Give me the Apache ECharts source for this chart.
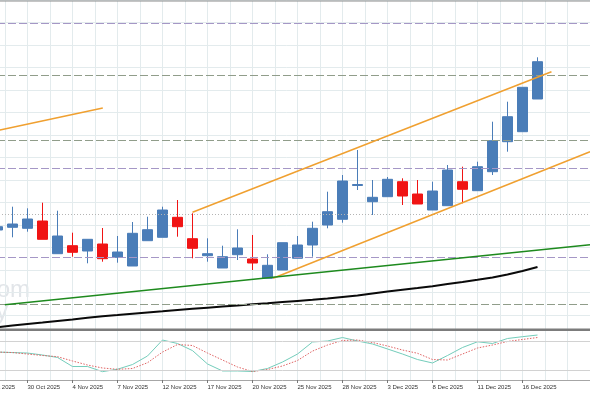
<!DOCTYPE html>
<html><head><meta charset="utf-8">
<script src="https://cdn.jsdelivr.net/npm/echarts@6/dist/echarts.min.js"></script>
<style>html,body{margin:0;padding:0;background:#fff;overflow:hidden;width:590px;height:393px;position:relative}
#c{position:absolute;left:-25px;top:0;width:620px;height:393px}</style>
</head><body><div id="c"></div>
<script>
// ---- data (price units are arbitrary: no price scale is visible in the source) ----
const dates = ['27 Oct 2025','28 Oct 2025','29 Oct 2025','30 Oct 2025','31 Oct 2025',
 '3 Nov 2025','4 Nov 2025','5 Nov 2025','6 Nov 2025','7 Nov 2025',
 '10 Nov 2025','11 Nov 2025','12 Nov 2025','13 Nov 2025','14 Nov 2025',
 '17 Nov 2025','18 Nov 2025','19 Nov 2025','20 Nov 2025','21 Nov 2025',
 '24 Nov 2025','25 Nov 2025','26 Nov 2025','27 Nov 2025','28 Nov 2025',
 '1 Dec 2025','2 Dec 2025','3 Dec 2025','4 Dec 2025','5 Dec 2025',
 '8 Dec 2025','9 Dec 2025','10 Dec 2025','11 Dec 2025','12 Dec 2025',
 '15 Dec 2025','16 Dec 2025','17 Dec 2025','18 Dec 2025','19 Dec 2025','22 Dec 2025'];
const lastLabelIndex = 36;

// [open, close, low, high]
const candles = ['-',
 [97,100.3,96.5,101],[99.7,103,89.7,120.3],[98.7,108,95.3,118.7],[106,87.7,87.7,124.3],
 [73.3,91,73.3,116.3],[81.3,74.7,70.3,94.3],[76,87.7,63.7,87.7],[83,68.3,65.3,99],
 [69.7,75,64.3,91],[61,93.7,61,105],[86.3,97.3,86.3,110.3],[89.7,117,89.7,120.3],
 [109.7,100.3,90.3,127],[88.3,78.7,68.7,113.7],[71.3,73.3,65.3,88.7],[59,70.3,59,81.3],
 [72.3,79,67,97.7],[68,64,57,92],[48.7,61.7,48.7,72.7],[57,84.3,57,84.3],
 [68.7,82,68.7,91],[82,98.7,70.3,105.3],[102,115.3,98.7,135.3],[107.7,146,104.3,152],
 [141.5,142.5,137,177],[125.3,129.7,112,147],[130.3,147.7,130.3,150],[145.3,131,122,148.7],
 [133,123,123,147],[117,136,117,145.3],[121.3,157,121.3,162],[145.3,137.7,123.7,160.3],
 [136.3,160.3,136.3,165.3],[155.3,186.3,152,205.3],[185.3,210.3,175.3,225.3],
 [195.3,239.7,195.3,239.7],[228,265.3,228,269.7]];

const movingAvg = ['-',
 -0.2,1.4,3,4.5,6.1,7.6,9.2,10.8,12,13.3,14.5,15.7,17,18.2,19.3,20.4,21.5,22.7,23.8,25,
 26.1,27.2,28.5,30,31.5,33.5,35.5,37.3,39,40.8,42.9,45,47.2,49.5,52.5,56,60];

const stochMain = ['-',
 57,56,55,51,46,27.5,27.5,17,22,31.6,49,81.6,74.5,60,32.7,18.4,18.4,17.3,23.5,36.7,
 53,77.6,79.6,86.7,79.6,73.5,63.3,53,41.8,34.7,50,66.3,78,74.5,84.7,88.4,91.8];
const stochSignal = ['-',
 57,56,53,50,47.6,38.8,30.6,24.5,21.8,23.5,35.3,57,72.4,70.4,55,40.8,26.5,17.3,21.4,28.6,
 39.8,59,71.4,80.6,81.6,76.5,69.4,61.2,54.5,41.8,40.8,53,65.3,71.4,78.6,82.7,86.7];
const stochLevels = [20, 80];

const levelsPurple = [304, 159, 70];
const levelsGreen = [252, 187, 23];
const levelsDotted = [113];

// trend lines: [category index, price]
const trendOld = [[0,193.3],[8.02,219]];
const channelUpper = [[14.0,114.7],[37.93,255.3]];
const channelLower = [[19.37,48.7],[40.5,175.3]];
const trendGreen = [[1.49,22.2],[40.5,82.2]];

// ---- chart (canvas is shifted 25px left so the first candle is cut by the edge) ----
const chart = echarts.init(document.getElementById('c'), null, {renderer:'canvas'});
const gridColor = '#e3ebed';
const showIdx = (i) => i % 3 === 0 && i <= lastLabelIndex;
const levelLines = [];
levelsPurple.forEach(v => levelLines.push({yAxis:v, lineStyle:{color:'#a597c6', type:[8,3], width:1}}));
levelsGreen.forEach(v => levelLines.push({yAxis:v, lineStyle:{color:'#909d8a', type:[8,3], width:1}}));
levelsDotted.forEach(v => levelLines.push({yAxis:v, lineStyle:{color:'#b4b4b4', type:[1,2], width:1}}));

const trendSeries = (data, color, width) => ({
  type:'line', xAxisIndex:1, yAxisIndex:0, data, symbol:'none', silent:true, z:5,
  lineStyle:{color, width}
});

chart.setOption({
  animation:false,
  backgroundColor:'#ffffff',
  grid:[
    {left:0, width:615, top:1, height:328},
    {left:0, width:615, top:331, height:49},
    {left:7.5, width:607.5, top:0, height:329},
    {left:7.5, width:607.5, top:331, height:49}
  ],
  xAxis:[
    {type:'category', gridIndex:0, data:dates, boundaryGap:true, show:false},
    {type:'value', gridIndex:0, min:-0.5, max:40.5, show:false},
    {type:'category', gridIndex:1, data:dates, boundaryGap:true,
      axisLine:{lineStyle:{color:'#a6a6a6', width:1}},
      axisTick:{show:true, interval:showIdx, alignWithLabel:true, length:3, lineStyle:{color:'#777'}},
      axisLabel:{interval:showIdx, align:'left', margin:4, fontSize:6,
        fontFamily:'"Liberation Sans", Arial, sans-serif', color:'#333'},
      splitLine:{show:false}},
    {type:'value', gridIndex:2, min:0, max:40.5, interval:1.5,
      axisLine:{show:false}, axisTick:{show:false}, axisLabel:{show:false},
      splitLine:{show:true, lineStyle:{color:gridColor, width:1}}},
    {type:'value', gridIndex:3, min:0, max:40.5, interval:1.5,
      axisLine:{show:false}, axisTick:{show:false}, axisLabel:{show:false},
      splitLine:{show:true, lineStyle:{color:gridColor, width:1}}}
  ],
  yAxis:[
    {type:'value', gridIndex:0, min:-2, max:326, show:false},
    {type:'value', gridIndex:1, min:0, max:100, show:false},
    {type:'value', gridIndex:2, inverse:true, min:0, max:329/22.5, interval:1,
      axisLine:{show:false}, axisTick:{show:false}, axisLabel:{show:false},
      splitLine:{show:true, lineStyle:{color:gridColor, width:1}}},
    {type:'value', gridIndex:3, min:0, max:1, show:false}
  ],
  series:[
    {type:'line', xAxisIndex:0, yAxisIndex:0, data:[], silent:true, z:1,
      markLine:{silent:true, symbol:['none','none'], label:{show:false}, animation:false, data:levelLines}},
    {type:'candlestick', xAxisIndex:0, yAxisIndex:0, data:candles, barWidth:11, z:3,
      itemStyle:{color:'#4a7db8', color0:'#f01414', borderColor:'#4a7db8', borderColor0:'#f01414', borderWidth:1}},
    {type:'line', xAxisIndex:0, yAxisIndex:0, data:movingAvg, symbol:'none', z:4,
      lineStyle:{color:'#0a0a0a', width:2}},
    trendSeries(trendOld, '#f0a030', 1.5),
    trendSeries(channelUpper, '#f0a030', 1.5),
    trendSeries(channelLower, '#f0a030', 1.5),
    trendSeries(trendGreen, '#1e8a1e', 1.5),
    {type:'line', xAxisIndex:2, yAxisIndex:1, data:stochMain, symbol:'none', z:4,
      lineStyle:{color:'#74cdbb', width:1},
      markLine:{silent:true, symbol:['none','none'], label:{show:false},
        lineStyle:{color:'#d2d2d2', type:'solid', width:1},
        data:stochLevels.map(v => ({yAxis:v}))}},
    {type:'line', xAxisIndex:2, yAxisIndex:1, data:stochSignal, symbol:'none', z:4,
      lineStyle:{color:'#e06464', width:1, type:[1.5,1.5]}}
  ],
  graphic:[
    {type:'line', shape:{x1:0, y1:1, x2:620, y2:1}, style:{stroke:'#8c8c8c', lineWidth:1}, z:10},
    {type:'rect', shape:{x:0, y:328.5, width:620, height:2.5}, style:{fill:'#7c7c7c'}, z:10},
    {type:'text', x:55, y:302, z:0, style:{text:'om', fill:'#e2e5e9', font:'24px "Liberation Sans", Arial', align:'right', verticalAlign:'bottom'}},
    {type:'text', x:33, y:324, z:0, style:{text:'y', fill:'#e2e5e9', font:'24px "Liberation Sans", Arial', align:'right', verticalAlign:'bottom'}}
  ]
});
</script></body></html>
